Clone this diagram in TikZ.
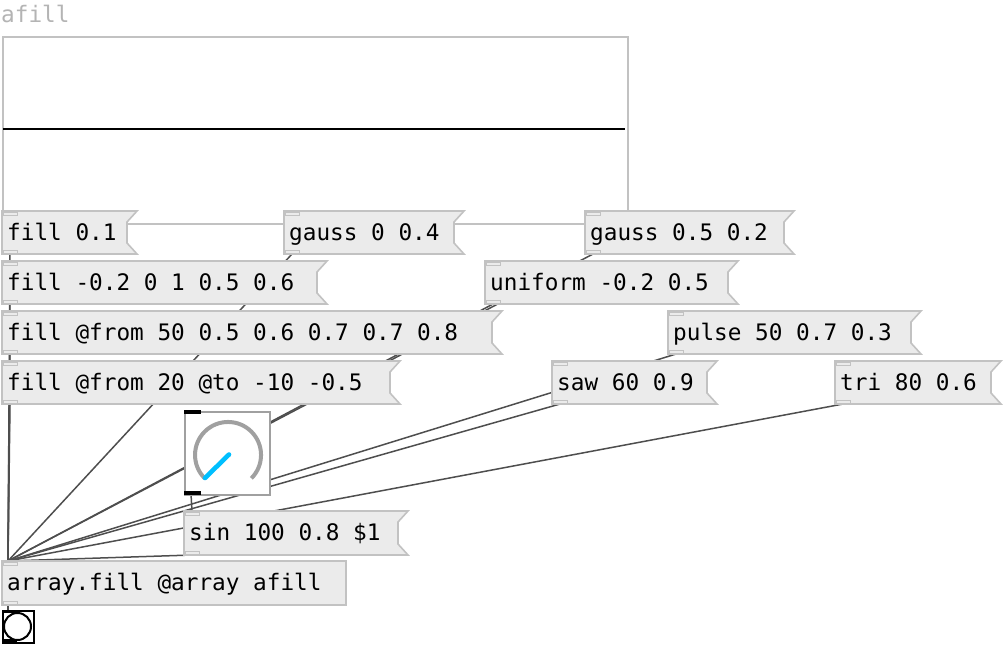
\documentclass[tikz,border=0pt]{standalone}
\usepackage{fontspec}
\newfontfamily\pdmono{DejaVu Sans Mono}
\usetikzlibrary{calc}
\pgfdeclarelayer{graphlayer}
\pgfdeclarelayer{cordlayer}
\pgfsetlayers{graphlayer,cordlayer,main}
\definecolor{boxfill}{HTML}{EBEBEB}
\definecolor{boxline}{HTML}{C2C2C2}
\definecolor{cordcol}{HTML}{4E4E4E}
\definecolor{labelcol}{HTML}{B4B4B4}
\definecolor{knobcol}{HTML}{A0A0A0}
\definecolor{needlecol}{HTML}{00BFFF}
\tikzset{
  pdtext/.style={font=\pdmono\fontsize{22.7}{26}\selectfont, inner sep=0pt, anchor=base west, text=black},
  boxshape/.style={fill=boxfill, draw=boxline, line width=1.6pt, line join=miter},
  iolet/.style={fill=boxfill, draw=boxline, line width=1pt},
  blackio/.style={fill=black, draw=none},
  cord/.style={draw=cordcol, line width=1.5pt},
}
\newcommand\pdmsg[6]{%
  \draw[boxshape] (#2,#3) -- (#4,#3) -- (#4-10,#3+11) -- (#4-10,#5-11) -- (#4,#5) -- (#2,#5) -- cycle;
  \draw[iolet] (#2+1,#3+1) rectangle (#2+15,#3+4);
  \draw[iolet] (#2+1,#5-4) rectangle (#2+15,#5-1);
  \node[pdtext] (#1) at (#2+5,#3+29.5) {#6};
  \coordinate (#1-in) at (#2+8,#3);
  \coordinate (#1-out) at (#2+8,#5);
}
\begin{document}
\begin{tikzpicture}[x=1pt,y=-1pt]
\useasboundingbox (0,0) rectangle (1008,648);
% graph
\begin{pgfonlayer}{graphlayer}
\node[draw=boxline, fill=white, line width=1.6pt, minimum width=625pt, minimum height=187pt, anchor=north west, inner sep=0pt] (graph) at (2,36) {};
\draw[black, line width=2pt] (3,129) -- (625,129);
\end{pgfonlayer}
\node[pdtext, text=labelcol] (glabel) at (1,22.5) {afill};
% message boxes
\pdmsg{fillA}{2}{211}{137}{254}{fill 0.1}
\pdmsg{gaussA}{284}{211}{464}{254}{gauss 0 0.4}
\pdmsg{gaussB}{585}{211}{794}{254}{gauss 0.5 0.2}
\pdmsg{fillB}{2}{261}{327}{304}{fill -0.2 0 1 0.5 0.6}
\pdmsg{uniform}{485}{261}{738}{304}{uniform -0.2 0.5}
\pdmsg{fillC}{2}{311}{502}{354}{fill @from 50 0.5 0.6 0.7 0.7 0.8}
\pdmsg{pulse}{668}{311}{921}{354}{pulse 50 0.7 0.3}
\pdmsg{fillD}{2}{361}{400}{404}{fill @from 20 @to -10 -0.5}
\pdmsg{saw}{552}{361}{717}{404}{saw 60 0.9}
\pdmsg{tri}{835}{361}{1001}{404}{tri 80 0.6}
\pdmsg{sin}{184}{511}{408}{555}{sin 100 0.8 \$1}
% object box
\draw[boxshape] (2,561) rectangle (346,605);
\draw[iolet] (3,562) rectangle (17,565);
\draw[iolet] (3,601) rectangle (17,604);
\node[pdtext] (arrayfill) at (7,590.5) {array.fill @array afill};
\coordinate (arrayfill-in) at (8,561);
\coordinate (arrayfill-out) at (8,605);
% knob
\node[draw=knobcol, fill=white, line width=1.6pt, minimum width=85pt, minimum height=83pt, anchor=north west, inner sep=0pt] (knob) at (184,411) {};
\draw[knobcol, line width=4pt] (204.7,478.3) arc[start angle=225, end angle=-45, radius=33pt];
\draw[needlecol, line width=4.6pt, line cap=round] (205,478) -- (229,454.5);
\fill[blackio] (184,410) rectangle (201,413.5);
\fill[blackio] (184,491) rectangle (201,494.5);
\coordinate (knob-out) at (191,494);
% bang
\node[draw=black, fill=white, line width=1.6pt, minimum width=31pt, minimum height=32pt, anchor=north west, inner sep=0pt] (bang) at (2,610) {};
\draw[black, line width=2pt] (17.5,626.5) circle[radius=13.5pt];
\fill[blackio] (1.5,609.5) rectangle (17,613);
\fill[blackio] (1.5,639) rectangle (17,642.5);
\coordinate (bang-in) at (8,610);
% cords
\begin{pgfonlayer}{cordlayer}
\draw[cord] (fillA-out) -- (arrayfill-in);
\draw[cord] (fillB-out) -- (arrayfill-in);
\draw[cord] (fillC-out) -- (arrayfill-in);
\draw[cord] (fillD-out) -- (arrayfill-in);
\draw[cord] (gaussA-out) -- (arrayfill-in);
\draw[cord] (gaussB-out) -- (arrayfill-in);
\draw[cord] (uniform-out) -- (arrayfill-in);
\draw[cord] (pulse-out) -- (arrayfill-in);
\draw[cord] (saw-out) -- (arrayfill-in);
\draw[cord] (tri-out) -- (arrayfill-in);
\draw[cord] (sin-out) -- (arrayfill-in);
\draw[cord] (knob-out) -- (sin-in);
\draw[cord] (arrayfill-out) -- (bang-in);
\end{pgfonlayer}
\end{tikzpicture}
\end{document}
